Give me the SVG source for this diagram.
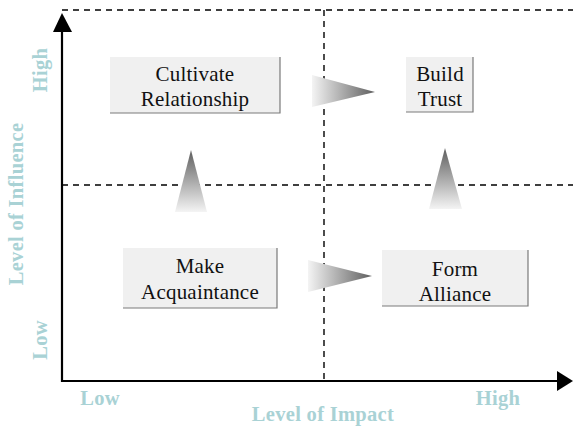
<svg xmlns="http://www.w3.org/2000/svg" width="573" height="427" viewBox="0 0 573 427">
<style>
.box{fill:#f0f0f0;stroke:none}
.shadow{fill:none;stroke:#7a7a7a;stroke-width:1.2}
.lbl{font-family:"Liberation Serif","DejaVu Serif",serif;font-size:21px;fill:#111;text-anchor:middle;letter-spacing:0.2px}
.ax{font-family:"Liberation Serif","DejaVu Serif",serif;font-size:20.5px;font-weight:bold;fill:#a9d2d5;text-anchor:middle;letter-spacing:0.3px}
.dash{stroke:#000;stroke-width:1.4;stroke-dasharray:6,5;fill:none}
.axis{stroke:#000;stroke-width:2.2;fill:none}
</style>
<defs>
<linearGradient id="gr" x1="0" y1="0" x2="1" y2="0">
<stop offset="0" stop-color="#f4f4f4"/><stop offset="1" stop-color="#5e5e5e"/>
</linearGradient>
<linearGradient id="gu" x1="0" y1="1" x2="0" y2="0">
<stop offset="0" stop-color="#f4f4f4"/><stop offset="1" stop-color="#5e5e5e"/>
</linearGradient>
</defs>
<g id="grid">
<line class="dash" x1="62" y1="10" x2="573" y2="10"/>
<line class="dash" x1="62" y1="185" x2="573" y2="185"/>
<line class="dash" x1="324" y1="10" x2="324" y2="380"/>
</g>
<g id="axes">
<polyline class="axis" points="62,32 62,381 558,381"/>
<polygon points="62,13 53,32 72,32" fill="#000"/>
<polygon points="573,381 557,371 557,391" fill="#000"/>
</g>
<g id="connectors">
<polygon points="312,75 312,107 375,92" fill="url(#gr)"/>
<polygon points="308,260 308,292 372,276" fill="url(#gr)"/>
<polygon points="191,150 175,212 207,212" fill="url(#gu)"/>
<polygon points="445,148 429,209 462,209" fill="url(#gu)"/>
</g>
<g id="cultivate">
<rect class="box" x="110" y="57" width="170" height="56"/>
<polyline class="shadow" points="280,57 280,113 110,113"/>
<text class="lbl" x="195" y="81">Cultivate</text>
<text class="lbl" x="195" y="106">Relationship</text>
</g>
<g id="trust">
<rect class="box" x="406" y="57" width="67" height="55"/>
<polyline class="shadow" points="473,57 473,112 406,112"/>
<text class="lbl" x="440" y="81">Build</text>
<text class="lbl" x="440" y="106">Trust</text>
</g>
<g id="acquaintance">
<rect class="box" x="123" y="248" width="154" height="60"/>
<polyline class="shadow" points="277,248 277,308 123,308"/>
<text class="lbl" x="200" y="273">Make</text>
<text class="lbl" x="200" y="299">Acquaintance</text>
</g>
<g id="alliance">
<rect class="box" x="382" y="250" width="146" height="56"/>
<polyline class="shadow" points="528,250 528,306 382,306"/>
<text class="lbl" x="455" y="276">Form</text>
<text class="lbl" x="455" y="301">Alliance</text>
</g>
<g id="labels">
<text class="ax" transform="translate(47,70) rotate(-90)">High</text>
<text class="ax" transform="translate(47,340) rotate(-90)">Low</text>
<text class="ax" transform="translate(23,204) rotate(-90)">Level of Influence</text>
<text class="ax" x="100" y="405">Low</text>
<text class="ax" x="323" y="421">Level of Impact</text>
<text class="ax" x="498" y="405">High</text>
</g>
</svg>
